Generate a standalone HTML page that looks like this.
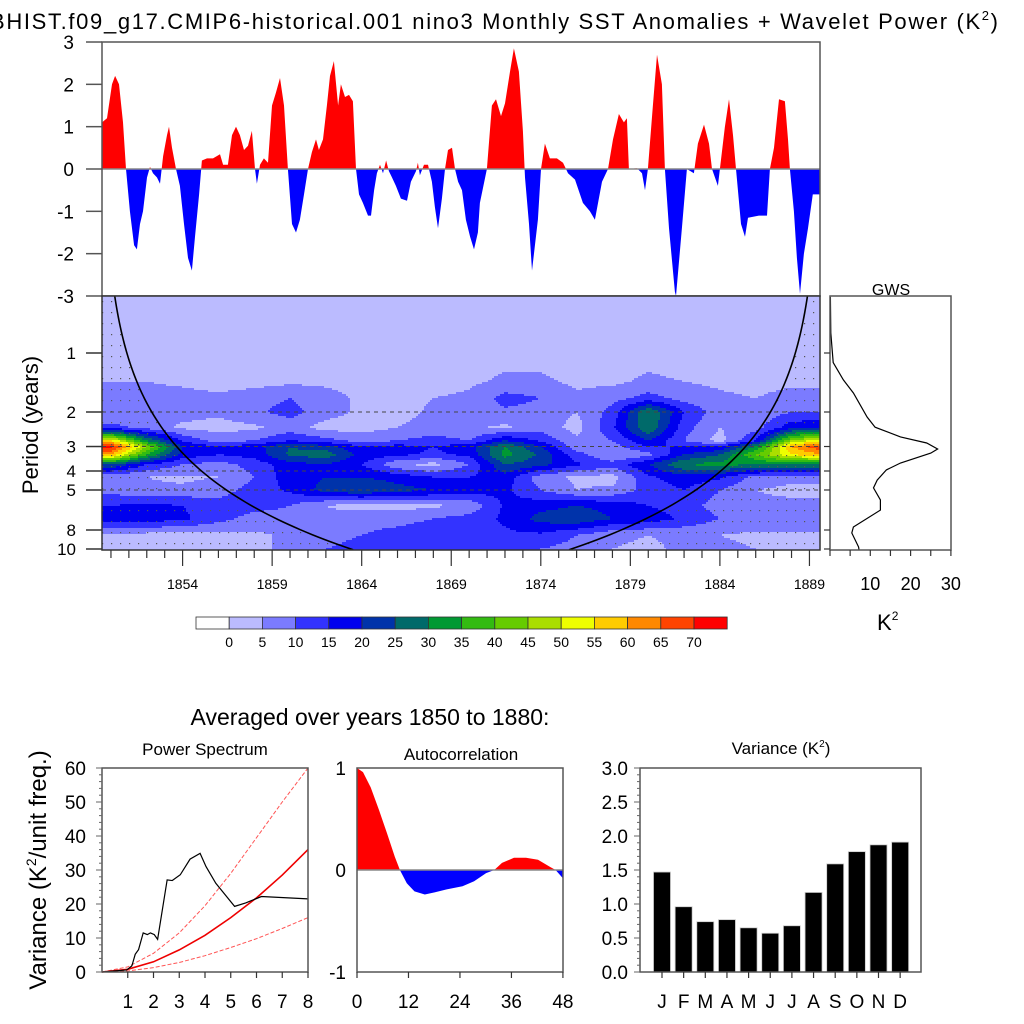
<!DOCTYPE html>
<html><head><meta charset="utf-8">
<style>
html,body{margin:0;padding:0;background:#fff;}
svg{display:block;font-family:"Liberation Sans",Arial,sans-serif;}
</style></head>
<body>
<svg id="root" width="1024" height="1024" viewBox="0 0 1024 1024" xmlns="http://www.w3.org/2000/svg">
<defs>
<pattern id="dots" width="9" height="11" patternUnits="userSpaceOnUse"><rect x="3" y="4" width="1.2" height="1.2" fill="#555"/></pattern>
<clipPath id="clipPos"><rect x="102" y="42" width="718" height="127"/></clipPath>
<clipPath id="clipNeg"><rect x="102" y="169" width="718" height="127"/></clipPath>
<clipPath id="clipWav"><rect x="102" y="296" width="718" height="254"/></clipPath>
<clipPath id="clipAcPos"><rect x="357" y="768" width="206" height="102"/></clipPath>
<clipPath id="clipAcNeg"><rect x="357" y="870" width="206" height="102"/></clipPath>
<clipPath id="clipPs"><rect x="102" y="768" width="206" height="204"/></clipPath>
</defs>
<text x="-10" y="29" font-size="22" textLength="1008">BHIST.f09_g17.CMIP6-historical.001 nino3 Monthly SST Anomalies + Wavelet Power (K<tspan font-size="13" dy="-9">2</tspan><tspan dy="9">)</tspan></text>
<g id="ts"></g>
<g id="wav"></g>
<g id="gws"></g>
<g id="cbar"></g>
<text x="370" y="725" font-size="23" text-anchor="middle">Averaged over years 1850 to 1880:</text>
<g id="ps"></g>
<g id="ac"></g>
<g id="vr"></g>
</svg>
<script>
// ---------- data ----------
const tsYears=[1849.50,1849.78,1850.06,1850.23,1850.45,1850.67,1850.84,1851.06,1851.29,1851.45,1851.62,1851.79,1852.01,1852.18,1852.35,1852.57,1852.74,1852.91,1853.13,1853.24,1853.41,1853.63,1853.85,1854.08,1854.30,1854.52,1854.69,1854.92,1855.08,1855.36,1855.70,1856.09,1856.26,1856.53,1856.76,1856.98,1857.20,1857.43,1857.65,1857.87,1858.04,1858.15,1858.32,1858.54,1858.77,1858.99,1859.21,1859.44,1859.66,1859.88,1860.11,1860.33,1860.55,1860.78,1861.00,1861.22,1861.45,1861.61,1861.84,1862.06,1862.23,1862.45,1862.68,1862.84,1863.07,1863.29,1863.51,1863.68,1863.85,1864.07,1864.35,1864.52,1864.69,1864.85,1865.02,1865.19,1865.36,1865.52,1865.69,1865.91,1866.19,1866.53,1866.75,1867.03,1867.14,1867.25,1867.48,1867.70,1867.92,1868.09,1868.26,1868.48,1868.65,1868.82,1869.04,1869.21,1869.38,1869.60,1869.82,1870.05,1870.27,1870.49,1870.60,1870.99,1871.27,1871.50,1871.78,1872.00,1872.28,1872.50,1872.78,1873.00,1873.12,1873.34,1873.51,1873.84,1874.01,1874.23,1874.51,1874.90,1875.24,1875.52,1875.91,1876.35,1876.74,1877.02,1877.42,1877.75,1878.03,1878.36,1878.64,1878.81,1878.92,1879.37,1879.65,1879.82,1879.98,1880.26,1880.49,1880.76,1880.93,1881.16,1881.49,1881.55,1881.88,1882.16,1882.55,1882.77,1883.11,1883.39,1883.56,1883.89,1884.00,1884.28,1884.51,1884.73,1884.90,1885.18,1885.40,1885.57,1886.18,1886.63,1886.79,1887.02,1887.30,1887.63,1887.80,1887.91,1888.13,1888.30,1888.47,1888.69,1888.92,1889.19,1889.59];
const tsValues=[1.1,1.2,2.0,2.2,2.0,1.1,0,-1.0,-1.8,-1.9,-1.3,-1.0,-0.2,0.05,-0.1,-0.2,-0.35,0.3,0.8,1.0,0.5,0,-0.4,-1.3,-2.1,-2.4,-1.6,-0.6,0.2,0.25,0.25,0.35,0.1,0.1,0.8,1.0,0.8,0.45,0.55,0.9,0,-0.35,0.1,0.25,0.15,1.5,1.8,2.15,1.5,0,-1.3,-1.5,-1.2,-0.6,0,0.4,0.7,0.45,0.7,1.5,2.2,2.55,1.5,2.0,1.7,1.75,1.6,0,-0.6,-0.8,-1.1,-1.1,-0.5,-0.1,0.1,-0.1,0.2,-0.05,-0.2,-0.4,-0.7,-0.75,-0.3,-0.05,0.15,-0.15,0.1,0.1,-0.3,-0.9,-1.4,-0.7,0,0.45,0.5,0,-0.3,-0.5,-1.2,-1.6,-1.9,-1.5,-0.8,0,1.5,1.65,1.25,1.55,2.3,2.85,2.3,0.9,-0.2,-1.3,-2.4,-1.2,0,0.6,0.25,0.25,0.15,-0.1,-0.25,-0.8,-1.0,-1.2,-0.3,0,0.7,1.3,1.1,1.2,0,0.02,-0.1,-0.5,0,1.5,2.7,2.0,0,-1.4,-2.9,-3.0,-1.4,0,-0.1,0.6,1.05,0.6,0,-0.4,0,1.0,1.65,0.8,0,-1.3,-1.6,-1.15,-1.1,-1.1,0,0.5,1.65,1.6,0.7,0,-1.0,-2.1,-2.95,-2.0,-1.4,-0.6,-0.6];

const wavYears=[1850,1852,1854,1856,1858,1860,1862,1864,1866,1868,1870,1872,1874,1876,1878,1880,1882,1884,1886,1888,1890];
const wavPeriods=[0.5,1,1.4,1.7,2,2.4,2.8,3,3.3,3.7,4.3,5,6,7,8.5,10];
const wavPower=[
[1,1,1,1,1,1,1,1,1,1,1,1,1,1,1,1,1,1,1,1,1],
[2,2,2,2,2,2,2,2,2,2,2,3,3,2,2,3,2,2,3,3,2],
[5,5,4,3,3,4,4,3,2,3,4,6,6,4,4,6,5,4,3,4,4],
[6,7,7,6,8,10,7,4,3,5,6,12,10,6,8,12,8,6,5,7,7],
[5,6,7,6,9,12,7,4,3,6,7,9,8,5,12,30,15,7,6,10,10],
[12,8,4,3,4,7,3,3,5,7,6,4,8,3,14,30,12,5,8,18,20],
[55,30,14,8,10,15,12,8,10,12,10,20,14,6,10,20,10,3,15,45,55],
[72,45,20,15,18,25,22,15,17,15,18,30,20,7,8,15,15,15,30,60,72],
[60,35,18,15,17,26,28,18,16,14,16,32,24,12,5,8,20,25,40,55,60],
[25,15,10,8,12,18,20,15,6,3,10,25,22,16,12,20,30,32,30,30,30],
[6,5,4,5,10,18,20,20,18,15,15,18,7,4,3,14,18,16,8,6,6],
[8,6,6,8,12,16,22,25,22,20,18,16,10,5,6,12,15,10,5,4,4],
[15,16,15,12,12,10,5,3,3,4,6,16,18,20,18,15,12,8,6,6,6],
[18,18,16,12,8,8,6,8,8,10,12,16,22,24,20,18,14,10,8,8,8],
[4,3,3,3,4,6,8,10,12,14,14,14,14,10,6,5,6,5,4,4,4],
[4,3,3,3,4,6,10,12,14,14,14,12,10,8,5,4,6,6,5,4,4]];
const levelLabels=[0,5,10,15,20,25,30,35,40,45,50,55,60,65,70];
const levelColors=["#ffffff","#bbbbff","#7b7bff","#3333ff","#0000ee","#0033aa","#006a6a","#009933","#33bb11","#66cc00","#aade00","#eeff00","#ffcc00","#ff8800","#ff4400","#ff0000"];

const gwsPeriods=[0.518,0.79,1.12,1.37,1.60,2.12,2.39,2.68,2.88,3.09,3.24,3.64,3.95,4.45,4.88,5.62,6.33,7.72,8.29,9.77,10.1];
const gwsPower=[0.1,0.2,0.8,3.3,5.8,9.2,11.2,17.5,24,26.7,25,17.5,14,11.7,10.8,12.5,12.5,5.8,5.4,7.1,7.2];

const psFreq=[0,0.96,1.16,1.29,1.42,1.6,1.76,1.88,2.03,2.16,2.53,2.73,3.04,3.42,3.81,4.04,4.42,5.15,5.58,6.19,8.0];
const psPower=[0,0.6,1.8,5.2,6.6,11.5,11.0,11.5,11.0,9.6,27.1,26.9,28.6,33.2,34.9,31.0,26.1,19.3,20.3,22.2,21.5];
const redFreq=[0,1,2,3,4,5,6,7,8];
const redNoise=[0,0.8,3,6.5,10.8,16,21.8,28.5,36];
const redUpper=[0,1.5,5.5,11.5,19.5,29,39.5,50,60];
const redLower=[0,0.3,1.3,2.8,4.8,7.2,9.8,12.8,16];

const acLag=[0,1.4,3.2,5.1,7,8.8,10,11.6,13.4,15.8,18.1,20.9,24.6,27.3,30.1,32,33.8,36.6,39.4,42.2,45,46.3,48];
const acValue=[1,0.96,0.81,0.59,0.36,0.13,0,-0.13,-0.21,-0.24,-0.22,-0.19,-0.16,-0.11,-0.03,0,0.07,0.12,0.12,0.10,0.03,0,-0.08];

const months=["J","F","M","A","M","J","J","A","S","O","N","D"];
const monthVariance=[1.47,0.96,0.74,0.77,0.65,0.57,0.68,1.17,1.59,1.77,1.87,1.91];

// ---------- helpers ----------
const NS="http://www.w3.org/2000/svg";
function mk(tag,attrs,parent){const e=document.createElementNS(NS,tag);for(const k in attrs)e.setAttribute(k,attrs[k]);parent.appendChild(e);return e;}
function txt(s,x,y,size,anchor,parent){const t=mk("text",{x:x,y:y,"font-size":size,"text-anchor":anchor||"middle"},parent);t.textContent=s;return t;}

const X=yr=>102+(yr-1849.5)*17.91;
const Yts=v=>169-v*42.33;
const Yp=p=>353+59*Math.log2(p);

// ---------- SST time series ----------
const ts=document.getElementById("ts");
let d="M"+X(tsYears[0])+","+Yts(0);
for(let i=0;i<tsYears.length;i++)d+=" L"+X(tsYears[i]).toFixed(1)+","+Yts(tsValues[i]).toFixed(1);
d+=" L"+X(tsYears[tsYears.length-1])+","+Yts(0)+" Z";
let p=mk("path",{d:d,fill:"#ff0000","clip-path":"url(#clipPos)"},ts);


p=mk("path",{d:d,fill:"#0000ff","clip-path":"url(#clipNeg)"},ts);


p=mk("line",{x1:102,x2:820,y1:169,y2:169,stroke:"#888","stroke-width":1.5},ts);


p=mk("rect",{x:102,y:42,width:718,height:254,fill:"none",stroke:"#555","stroke-width":1.5},ts);


[3,2,1,0,-1,-2,-3].forEach(v=>{
  const l=mk("line",{x1:86,x2:102,y1:Yts(v),y2:Yts(v),stroke:"#555","stroke-width":1.5},ts);
  
  
  const t=txt(String(v),74,Yts(v)+7,19,"end",ts);
  
  
});

// ---------- wavelet ----------
const wav=document.getElementById("wav");
const lp=wavPeriods.map(q=>Math.log2(q));
function interp(yr,per){
  let cf=(yr-wavYears[0])/(wavYears[1]-wavYears[0]);cf=Math.max(0,Math.min(wavYears.length-1.0001,cf));
  const c0=Math.floor(cf),ct=cf-c0;
  const l=Math.log2(per);let r0=0;
  if(l<=lp[0]){r0=0;}else if(l>=lp[lp.length-1]){r0=lp.length-2;}else{while(lp[r0+1]<l)r0++;}
  let rt=(l-lp[r0])/(lp[r0+1]-lp[r0]);rt=Math.max(0,Math.min(1,rt));
  const a=wavPower[r0][c0]*(1-ct)+wavPower[r0][c0+1]*ct;
  const b=wavPower[r0+1][c0]*(1-ct)+wavPower[r0+1][c0+1]*ct;
  return a*(1-rt)+b*rt;
}
function lvl(v){if(v<0)return 0;return Math.min(15,Math.floor(v/5)+1);}
const gcells=mk("g",{"clip-path":"url(#clipWav)"},wav);


const STEP=2;
for(let y=296;y<550;y+=STEP){
  const per=Math.pow(2,(y+STEP/2-353)/59);
  let runStart=102,runL=-1;
  for(let x=102;x<=820;x+=STEP){
    const L=x<820?lvl(interp(1849.5+(x+STEP/2-102)/17.91,per)):-2;
    if(L!==runL){
      if(runL>=0){const r=mk("rect",{x:runStart,y:y,width:x-runStart+0.6,height:STEP+0.6,fill:levelColors[runL]},gcells);
        
        }
      runStart=x;runL=L;
    }
  }
}
const coiC=0.72;
let left=[],right=[];
for(let q=0.51;q<=10.15;q*=1.03){const t=q/coiC;left.push([X(1849.5+t),Yp(q)]);right.push([X(1889.6-t),Yp(q)]);}
let lpoly="102,296 "+left.map(a=>a[0].toFixed(1)+","+a[1].toFixed(1)).join(" ")+" "+left[left.length-1][0].toFixed(1)+",550 102,550";
let rpoly="820,296 "+right.map(a=>a[0].toFixed(1)+","+a[1].toFixed(1)).join(" ")+" "+right[right.length-1][0].toFixed(1)+",550 820,550";
p=mk("polygon",{points:lpoly,fill:"url(#dots)","clip-path":"url(#clipWav)"},wav);


p=mk("polygon",{points:rpoly,fill:"url(#dots)","clip-path":"url(#clipWav)"},wav);


[2,3,4,5].forEach(q=>{const l=mk("line",{x1:102,x2:820,y1:Yp(q),y2:Yp(q),stroke:"#444","stroke-width":1,"stroke-dasharray":"4,4"},wav);
  
  });
p=mk("polyline",{points:left.map(a=>a.join(",")).join(" "),fill:"none",stroke:"#000","stroke-width":1.6,"clip-path":"url(#clipWav)"},wav);


p=mk("polyline",{points:right.map(a=>a.join(",")).join(" "),fill:"none",stroke:"#000","stroke-width":1.6,"clip-path":"url(#clipWav)"},wav);


p=mk("rect",{x:102,y:296,width:718,height:254,fill:"none",stroke:"#333","stroke-width":1.5},wav);


[1,2,3,4,5,8,10].forEach(q=>{
  const l=mk("line",{x1:86,x2:102,y1:Yp(q),y2:Yp(q),stroke:"#333","stroke-width":1.5},wav);
  
  
  const t=txt(String(q),76,Yp(q)+6,17,"end",wav);
  
  
});
for(let yr=1850;yr<=1889;yr++){
  const maj=(yr-1854)%5===0;
  const l=mk("line",{x1:X(yr),x2:X(yr),y1:550,y2:maj?566:558,stroke:"#333","stroke-width":1.2},wav);
  
  
  if(maj){const t=txt(String(yr),X(yr),589,14,"middle",wav);
    
    }
}
p=txt("Period (years)",0,0,22,"middle",wav);
p.setAttribute("transform","translate(38,425) rotate(-90)");



// ---------- GWS ----------
const gws=document.getElementById("gws");
const Xg=v=>830+v*4.03;
p=mk("polyline",{points:gwsPeriods.map((q,i)=>Xg(gwsPower[i]).toFixed(1)+","+Yp(q).toFixed(1)).join(" "),fill:"none",stroke:"#000","stroke-width":1.2},gws);


p=mk("rect",{x:830,y:296,width:121,height:254,fill:"none",stroke:"#555","stroke-width":1.5},gws);


p=txt("GWS",891,295,16,"middle",gws);


[1,2,3,4,5,8,10].forEach(q=>{const l=mk("line",{x1:824,x2:830,y1:Yp(q),y2:Yp(q),stroke:"#333","stroke-width":1.2},gws);
  
  });
[0,5,10,15,20,25,30].forEach(v=>{
  const l=mk("line",{x1:Xg(v),x2:Xg(v),y1:550,y2:556,stroke:"#333","stroke-width":1.2},gws);
  
  
  if(v%10===0&&v>0){const t=txt(String(v),Xg(v),590,18,"middle",gws);
    
    }
});
p=mk("text",{x:877,y:630,"font-size":22},gws);p.innerHTML='K<tspan font-size="12" dy="-10">2</tspan>';



// ---------- colorbar ----------
const cb=document.getElementById("cbar");
const cw=33.2;
levelColors.forEach((c,i)=>{const r=mk("rect",{x:196+i*cw,y:617,width:cw,height:12,fill:c,stroke:"#333","stroke-width":0.8},cb);
  
  });
levelLabels.forEach((v,i)=>{const t=txt(String(v),196+(i+1)*cw,647,14,"middle",cb);
  
  });

// ---------- power spectrum ----------
const ps=document.getElementById("ps");
const Xps=f=>102+f*25.75, Yps=v=>972-v*3.4;
p=mk("polyline",{points:redFreq.map((f,i)=>Xps(f)+","+Yps(redUpper[i])).join(" "),fill:"none",stroke:"#ff5555","stroke-width":1,"stroke-dasharray":"4,2","clip-path":"url(#clipPs)"},ps);


p=mk("polyline",{points:redFreq.map((f,i)=>Xps(f)+","+Yps(redLower[i])).join(" "),fill:"none",stroke:"#ff5555","stroke-width":1,"stroke-dasharray":"4,2"},ps);


p=mk("polyline",{points:redFreq.map((f,i)=>Xps(f)+","+Yps(redNoise[i])).join(" "),fill:"none",stroke:"#ee0000","stroke-width":1.6},ps);


p=mk("polyline",{points:psFreq.map((f,i)=>Xps(f)+","+Yps(psPower[i])).join(" "),fill:"none",stroke:"#000","stroke-width":1.2},ps);


p=mk("rect",{x:102,y:768,width:206,height:204,fill:"none",stroke:"#555","stroke-width":1.5},ps);


for(let v=0;v<=60;v+=2){const l=mk("line",{x1:v%10===0?96:99,x2:102,y1:Yps(v),y2:Yps(v),stroke:"#666","stroke-width":1},ps);
  
  }
[0,10,20,30,40,50,60].forEach(v=>{const t=txt(String(v),86,Yps(v)+7,19,"end",ps);
  
  });
for(let f=1;f<=8;f++){const l=mk("line",{x1:Xps(f),x2:Xps(f),y1:972,y2:978,stroke:"#333","stroke-width":1.2},ps);
  
  
  const t=txt(String(f),Xps(f),1008,19,"middle",ps);
  
  }
p=txt("Power Spectrum",205,755,17,"middle",ps);


p=mk("text",{"font-size":24,"text-anchor":"middle",transform:"translate(46,870) rotate(-90)"},ps);
p.innerHTML='Variance (K<tspan font-size="14" dy="-10">2</tspan><tspan dy="10">/unit freq.)</tspan>';



// ---------- autocorrelation ----------
const ac=document.getElementById("ac");
const Xac=l=>357+l*4.29, Yac=v=>870-v*102;
let ad="M"+Xac(0)+","+Yac(0);
acLag.forEach((l,i)=>{ad+=" L"+Xac(l).toFixed(1)+","+Yac(acValue[i]).toFixed(1);});
ad+=" L"+Xac(acLag[acLag.length-1])+","+Yac(0)+" Z";
p=mk("path",{d:ad,fill:"#ff0000","clip-path":"url(#clipAcPos)"},ac);


p=mk("path",{d:ad,fill:"#0000ff","clip-path":"url(#clipAcNeg)"},ac);


p=mk("line",{x1:357,x2:563,y1:870,y2:870,stroke:"#888","stroke-width":1.5},ac);


p=mk("rect",{x:357,y:768,width:206,height:204,fill:"none",stroke:"#555","stroke-width":1.5},ac);


[1,0,-1].forEach(v=>{const t=txt(String(v),346,Yac(v)+7,19,"end",ac);
  
  });
[0,12,24,36,48].forEach(l=>{const k=mk("line",{x1:Xac(l),x2:Xac(l),y1:972,y2:978,stroke:"#333","stroke-width":1.2},ac);
  
  
  const t=txt(String(l),Xac(l),1008,19,"middle",ac);
  
  });
p=txt("Autocorrelation",461,760,17,"middle",ac);



// ---------- monthly variance ----------
const vr=document.getElementById("vr");
const Xv=i=>662+i*21.65, Yv=v=>972-v*68;
monthVariance.forEach((v,i)=>{const r=mk("rect",{x:Xv(i)-8.5,y:Yv(v),width:17,height:972-Yv(v),fill:"#000",stroke:"#ccc","stroke-width":0.8},vr);
  
  });
p=mk("rect",{x:640,y:768,width:281,height:204,fill:"none",stroke:"#555","stroke-width":1.5},vr);


for(let k=0;k<=30;k++){const v=k/10;const l=mk("line",{x1:k%5===0?634:637,x2:640,y1:Yv(v),y2:Yv(v),stroke:"#666","stroke-width":1},vr);
  
  }
["0.0","0.5","1.0","1.5","2.0","2.5","3.0"].forEach((s,i)=>{const t=txt(s,628,Yv(i*0.5)+7,19,"end",vr);
  
  });
months.forEach((m,i)=>{const l=mk("line",{x1:Xv(i),x2:Xv(i),y1:972,y2:978,stroke:"#333","stroke-width":1.2},vr);
  
  
  const t=txt(m,Xv(i),1008,19,"middle",vr);
  
  });
p=mk("text",{x:781,y:754,"font-size":17,"text-anchor":"middle"},vr);
p.innerHTML='Variance (K<tspan font-size="10" dy="-7">2</tspan><tspan dy="7">)</tspan>';


</script>
</body></html>
